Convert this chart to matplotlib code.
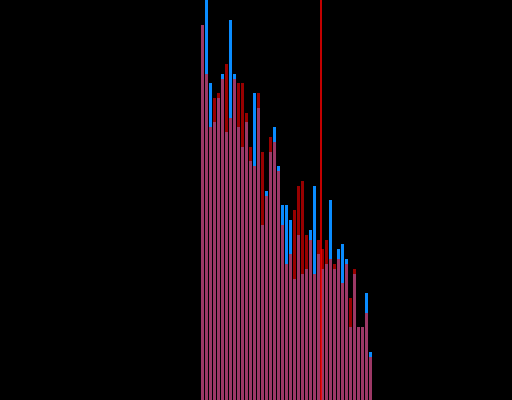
import matplotlib
matplotlib.use("Agg")
import matplotlib.pyplot as plt
import numpy as np

# bin index and counts (in chart units) for the two overlaid histograms
bins = list(range(43))
blue_counts = [375, 410, 317, 278, 302, 326, 268, 380, 326, 273, 253, 278, 239, 307, 292,
               175, 209, 248, 273, 234, 195, 195, 180, 121, 165, 126, 131, 170, 214, 146,
               131, 136, 200, 131, 151, 156, 141, 73, 126, 73, 73, 107, 48]
red_counts = [375, 326, 273, 302, 307, 321, 336, 282, 321, 317, 317, 287, 253, 234, 307,
              248, 204, 263, 258, 229, 175, 136, 146, 190, 214, 219, 165, 160, 126, 160,
              151, 160, 141, 136, 141, 117, 136, 102, 131, 73, 73, 87, 43]
marker_x = 29.875

fig = plt.figure(figsize=(5.12, 4.0), dpi=100)
fig.patch.set_facecolor("black")
ax = fig.add_axes([0, 0, 1, 1])
ax.set_facecolor("black")

x = np.array(bins, dtype=float)
ax.bar(x, blue_counts, width=0.75, align="edge", color="#0A8CFF", linewidth=0)
ax.bar(x, red_counts, width=0.75, align="edge", color="#FF0000", alpha=0.6, linewidth=0)
ax.axvline(marker_x, color="#FF0000", linewidth=1.1, zorder=5)

ax.set_xlim(-50.25, 77.75)
ax.set_ylim(0, 400)
ax.axis("off")

fig.savefig("out.png", dpi=100, facecolor="black")
